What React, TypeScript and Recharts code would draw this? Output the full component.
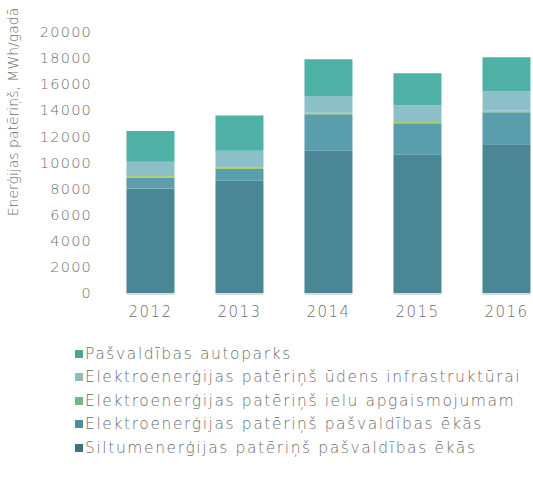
import { BarChart, Bar, XAxis, YAxis } from "recharts";

const years = ["2012", "2013", "2014", "2015", "2016"];
const siltumEkas = [8000, 8600, 10900, 10600, 11400];
const elektroEkas = [850, 900, 2800, 2400, 2450];
const elektroIelu = [110, 100, 120, 110, 120];
const elektroUdens = [1100, 1300, 1230, 1270, 1480];
const autoparks = [2350, 2700, 2860, 2450, 2610];
const yTicks = [0, 2000, 4000, 6000, 8000, 10000, 12000, 14000, 16000, 18000, 20000];

const data = years.map((year, i) => ({
  year,
  siltum: siltumEkas[i],
  ekas: elektroEkas[i],
  ielu: elektroIelu[i],
  udens: elektroUdens[i],
  auto: autoparks[i],
}));

// bottom to top
const series = [
  { key: "siltum", name: "Siltumenerģijas patēriņš pašvaldības ēkās", fill: "#4b8694", legend: "#41717f" },
  { key: "ekas", name: "Elektroenerģijas patēriņš pašvaldības ēkās", fill: "#5a9dac", legend: "#4f8c9c" },
  { key: "ielu", name: "Elektroenerģijas patēriņš ielu apgaismojumam", fill: "#a6d36a", legend: "#72b68a" },
  { key: "udens", name: "Elektroenerģijas patēriņš ūdens infrastruktūrai", fill: "#8dbfc9", legend: "#8fb9c0" },
  { key: "auto", name: "Pašvaldības autoparks", fill: "#4fb1a5", legend: "#4aa890" },
];

const font = "'DejaVu Sans', sans-serif";
const textColor = "#6e6e6e";

function BaseBar(props: any) {
  const { x, y, width, height, fill } = props;
  return (
    <g>
      <rect x={x} y={y} width={width} height={height} fill={fill} />
      <line x1={x} x2={x + width} y1={y + height + 1} y2={y + height + 1} stroke="#cfcfcf" strokeWidth={1.5} />
    </g>
  );
}

function AxisTitle(props: any) {
  const { viewBox } = props;
  const cx = viewBox.x + 13;
  const cy = viewBox.y + 80;
  return (
    <text
      x={cx}
      y={cy}
      transform={`rotate(-90, ${cx}, ${cy})`}
      textAnchor="middle"
      dominantBaseline="central"
      fill={textColor}
      fontSize={14}
      fontFamily={font}
      fontWeight={200}
    >
      Enerģijas patēriņš, MWh/gadā
    </text>
  );
}

export default function App() {
  return (
    <div style={{ position: "absolute", left: 0, top: 0, width: 533, height: 495, overflow: "hidden", background: "#fff" }}>
      <BarChart
        width={551}
        height={323}
        data={data}
        margin={{ top: 32, right: 0, left: 0, bottom: 0 }}
        barCategoryGap="23%"
      >
        <XAxis
          dataKey="year"
          axisLine={false}
          tickLine={false}
          height={30}
          tickMargin={7}
          tick={{ fill: textColor, fontSize: 15, fontFamily: font, fontWeight: 200, letterSpacing: 1.5 }}
        />
        <YAxis
          width={106}
          domain={[0, 20000]}
          ticks={yTicks}
          interval={0}
          axisLine={false}
          tickLine={false}
          tickSize={6}
          tickMargin={8}
          tick={{ fill: textColor, fontSize: 14.5, fontFamily: font, fontWeight: 200, letterSpacing: 1.2 }}
          label={<AxisTitle />}
        />
        {series.map((s, i) => (
          <Bar
            key={s.key}
            dataKey={s.key}
            name={s.name}
            stackId="a"
            fill={s.fill}
            isAnimationActive={false}
            shape={i === 0 ? <BaseBar /> : undefined}
          />
        ))}
      </BarChart>
      <div style={{ position: "absolute", left: 75, top: 342, fontFamily: font, fontWeight: 200, fontSize: 15.5, color: textColor, letterSpacing: 1.6 }}>
        {[...series].reverse().map((s) => (
          <div key={s.key} style={{ display: "flex", alignItems: "center", height: 23.5, whiteSpace: "nowrap" }}>
            <span style={{ display: "inline-block", width: 8, height: 8, background: s.legend, marginRight: 2 }} />
            {s.name}
          </div>
        ))}
      </div>
    </div>
  );
}
